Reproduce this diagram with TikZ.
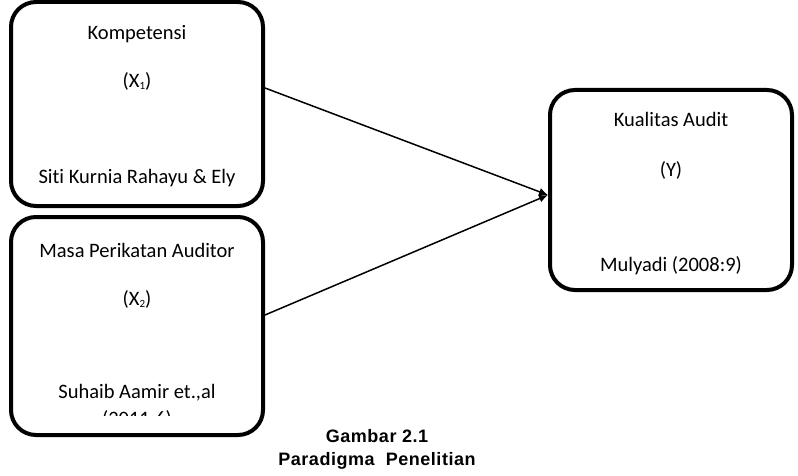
\documentclass[tikz,border=0pt]{standalone}
\usepackage{fontspec}
\setmainfont[Ligatures=NoCommon]{Carlito}
\newfontfamily\captfont[LetterSpace=3]{Liberation Sans}
\usetikzlibrary{arrows.meta}

\newcommand{\lowidx}[1]{\raisebox{-2pt}{\fontsize{11}{11}\selectfont #1}}

\begin{document}
\begin{tikzpicture}[x=1pt,y=-1pt]

\tikzset{VarBox/.style = {draw, line width=4pt, rounded corners=25pt, inner sep=0pt},
         BoxText/.style = {anchor=base, inner sep=0pt, font=\fontsize{20.5}{24}\selectfont},
         CaptText/.style = {anchor=base, inner sep=0pt, font=\fontsize{18}{20}\selectfont\captfont\bfseries},
         Path/.style = {line width=1.5pt, -{Latex[length=9pt,width=8pt]}}}

\useasboundingbox (0,0) rectangle (798,476);

\node[VarBox, minimum width=252pt, minimum height=204pt] (x1) at (137,104) {};
\node[VarBox, minimum width=252pt, minimum height=218pt] (x2) at (137,326) {};
\node[VarBox, minimum width=242pt, minimum height=200pt] (y) at (671,190) {};

\node[BoxText] (x1name) at (137,40) {Kompetensi};
\node[BoxText] (x1sym) at (137,88) {(X\lowidx{1})};
\node[BoxText] (x1src) at (137,183) {Siti Kurnia Rahayu \& Ely};

\node[BoxText] (x2name) at (137,257) {Masa Perikatan Auditor};
\node[BoxText] (x2sym) at (137,305) {(X\lowidx{2})};
\node[BoxText] (x2src) at (137,398) {Suhaib Aamir et.,al};
\begin{scope}
\clip (0,0) rectangle (798,415);
\node[BoxText] (x2year) at (137,425) {(2011:6)};
\end{scope}

\node[BoxText] (yname) at (671,127) {Kualitas Audit};
\node[BoxText] (ysym) at (671,176) {(Y)};
\node[BoxText] (ysrc) at (671,271) {Mulyadi (2008:9)};

\draw[Path] ([yshift=16pt]x1.east) -- ([yshift=-5pt]y.west);
\draw[Path] ([yshift=11pt]x2.east) -- ([yshift=-5pt]y.west);

\node[CaptText] (captnum) at (377,442) {Gambar 2.1};
\node[CaptText] (capttitle) at (377,465) {Paradigma\ \ Penelitian};

\end{tikzpicture}
\end{document}
